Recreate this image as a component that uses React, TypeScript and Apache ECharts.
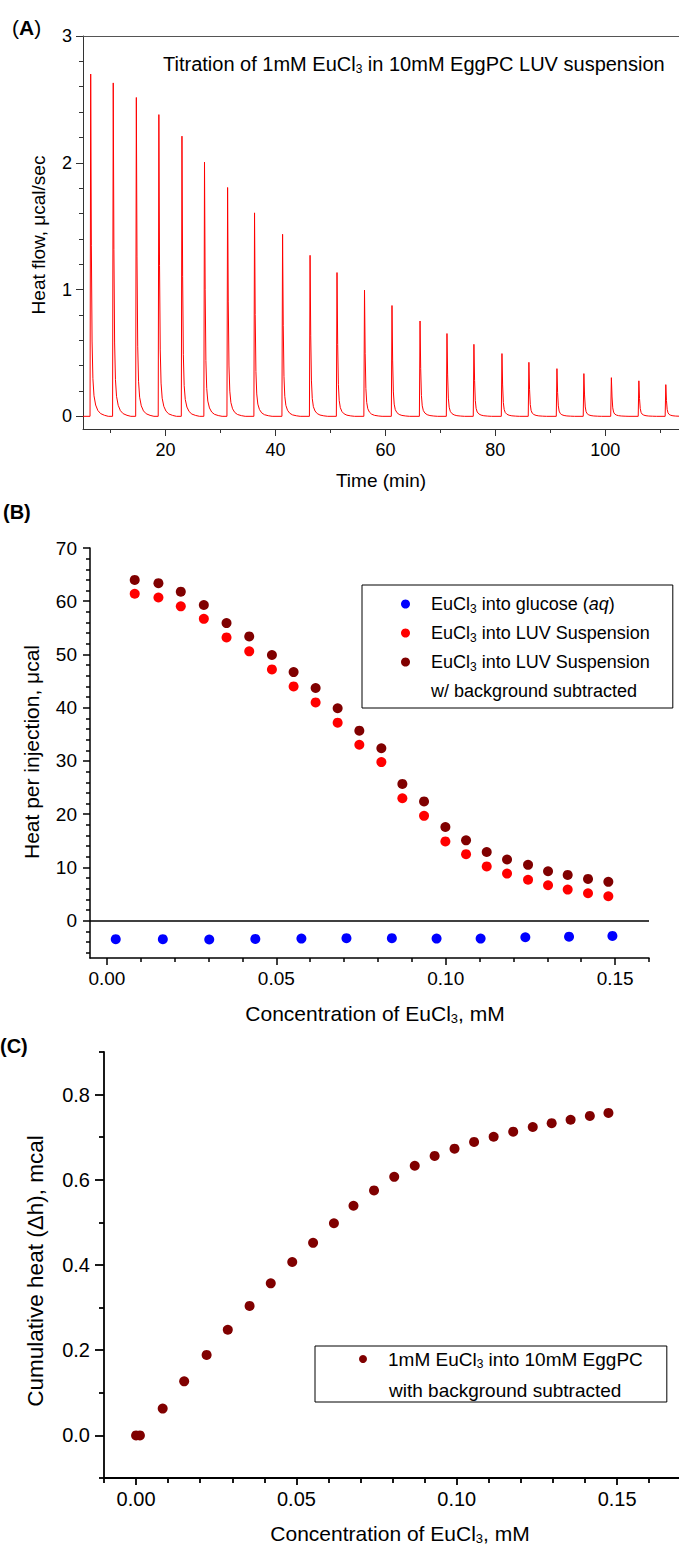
import React, { useEffect, useRef } from "react";
import * as echarts from "echarts";

const FONT = "'Liberation Sans', Arial, Helvetica, sans-serif";

// ---------------- Panel A: raw ITC thermogram ----------------
const TIME_MIN = 5;
const TIME_MAX = 113.4;
const PEAK_TIMES = [6.4, 10.5, 14.7, 18.8, 23.0, 27.1, 31.3, 36.2, 41.3, 46.3, 51.2, 56.2, 61.2, 66.3, 71.2, 76.1, 81.2, 86.1, 91.2, 96.1, 101.1, 106.1, 111.0];
const PEAK_HEIGHTS = [2.7, 2.63, 2.515, 2.38, 2.21, 2.005, 1.805, 1.605, 1.436, 1.27, 1.134, 0.995, 0.874, 0.752, 0.653, 0.568, 0.495, 0.426, 0.376, 0.337, 0.305, 0.28, 0.25];
// shape of one injection peak (minutes after the peak, fraction of peak height)
const PEAK_SHAPE_OFFSETS = [-0.12, 0, 0.12, 0.25, 0.4, 0.6, 0.9, 1.3, 1.8, 2.5, 3.2];
const PEAK_SHAPE_FRACTIONS = [0, 1, 0.5, 0.22, 0.11, 0.06, 0.033, 0.017, 0.008, 0.003, 0];
const A_X_MAJOR = [20, 40, 60, 80, 100];
const A_X_MINOR = [10, 30, 50, 70, 90, 110];
const A_Y_MAJOR = [0, 1, 2, 3];
const A_Y_MINOR = [0.2, 0.4, 0.6, 0.8, 1.2, 1.4, 1.6, 1.8, 2.2, 2.4, 2.6, 2.8];

// ---------------- Panel B: heat per injection ----------------
const CONC_B = [0.0082, 0.0152, 0.0218, 0.0286, 0.0353, 0.042, 0.0487, 0.0551, 0.0616, 0.0681, 0.0745, 0.081, 0.0872, 0.0936, 0.0999, 0.106, 0.1121, 0.1181, 0.1243, 0.1302, 0.136, 0.142, 0.148];
const HEAT_LUV = [61.4, 60.7, 59.05, 56.7, 53.2, 50.6, 47.2, 44.0, 41.0, 37.2, 33.05, 29.8, 23.0, 19.7, 14.9, 12.5, 10.2, 8.85, 7.7, 6.66, 5.85, 5.16, 4.6];
const HEAT_SUB = [64.0, 63.4, 61.8, 59.3, 55.9, 53.4, 49.9, 46.7, 43.7, 39.9, 35.7, 32.4, 25.7, 22.4, 17.6, 15.1, 12.9, 11.5, 10.5, 9.3, 8.6, 7.85, 7.3];
const CONC_GLUCOSE = [0.0026, 0.0165, 0.0302, 0.0438, 0.0574, 0.0707, 0.0841, 0.0973, 0.1103, 0.1235, 0.1364, 0.1492];
const HEAT_GLUCOSE = [-3.47, -3.47, -3.53, -3.41, -3.35, -3.28, -3.28, -3.35, -3.35, -3.1, -3.0, -2.85];
const B_X_MAJOR = [0, 0.05, 0.1, 0.15];
const B_X_MINOR = [0.01, 0.02, 0.03, 0.04, 0.06, 0.07, 0.08, 0.09, 0.11, 0.12, 0.13, 0.14, 0.16];
const B_Y_MAJOR = [0, 10, 20, 30, 40, 50, 60, 70];
const B_Y_MINOR = [-6, -4, -2, 2, 4, 6, 8, 12, 14, 16, 18, 22, 24, 26, 28, 32, 34, 36, 38, 42, 44, 46, 48, 52, 54, 56, 58, 62, 64, 66, 68];

// ---------------- Panel C: cumulative heat ----------------
const CONC_C = [0, 0.0012, 0.0083, 0.015, 0.022, 0.0286, 0.0354, 0.042, 0.0487, 0.0552, 0.0617, 0.0678, 0.0742, 0.0805, 0.0869, 0.0931, 0.0993, 0.1054, 0.1115, 0.1176, 0.1237, 0.1296, 0.1355, 0.1415, 0.1473];
const CUMULATIVE = [0, 0, 0.063, 0.127, 0.189, 0.248, 0.304, 0.357, 0.407, 0.452, 0.498, 0.539, 0.575, 0.607, 0.633, 0.656, 0.673, 0.689, 0.701, 0.713, 0.724, 0.733, 0.741, 0.75, 0.757];
const C_X_MAJOR = [0, 0.05, 0.1, 0.15];
const C_X_MINOR = [-0.01, 0.01, 0.02, 0.03, 0.04, 0.06, 0.07, 0.08, 0.09, 0.11, 0.12, 0.13, 0.14, 0.16];
const C_Y_MAJOR = [0, 0.2, 0.4, 0.6, 0.8];
const C_Y_MINOR = [-0.1, 0.1, 0.3, 0.5, 0.7, 0.9];

const NAME_GLU = "EuCl3 into glucose (aq)";
const NAME_LUV = "EuCl3 into LUV Suspension";
const NAME_SUB = "EuCl3 into LUV Suspension w/ background subtracted";
const NAME_C = "1mM EuCl3 into 10mM EggPC with background subtracted";

function buildTrace(): [number, number][] {
  const pts: [number, number][] = [[TIME_MIN, 0]];
  PEAK_TIMES.forEach((t, i) => {
    PEAK_SHAPE_OFFSETS.forEach((o, j) => {
      pts.push([t + o, PEAK_HEIGHTS[i] * PEAK_SHAPE_FRACTIONS[j]]);
    });
  });
  return pts;
}

type AxisSpec = {
  gridIndex: number;
  position: string;
  min: number;
  max: number;
  majors: number[];
  minors: number[];
  fmt: (v: number) => string;
  fontSize: number;
  margin: number;
  lineWidth: number;
  color: string;
  majorLen: number;
  minorLen: number;
};

function axisPair(s: AxisSpec): any[] {
  const base = {
    type: "value",
    gridIndex: s.gridIndex,
    position: s.position,
    min: s.min,
    max: s.max,
    splitLine: { show: false },
  };
  return [
    {
      ...base,
      axisLine: { show: true, onZero: false, lineStyle: { color: s.color, width: s.lineWidth } },
      axisTick: { show: true, length: s.majorLen, customValues: s.majors, lineStyle: { color: s.color, width: s.lineWidth } },
      axisLabel: {
        show: true,
        customValues: s.majors,
        formatter: s.fmt,
        margin: s.margin,
        fontSize: s.fontSize,
        fontFamily: FONT,
        color: "#000",
        hideOverlap: false,
      },
    },
    {
      ...base,
      axisLine: { show: false, onZero: false },
      axisTick: { show: true, length: s.minorLen, customValues: s.minors, lineStyle: { color: s.color, width: s.lineWidth } },
      axisLabel: { show: false },
    },
  ];
}

function subRich(fontSize: number) {
  return {
    s: { fontSize: Math.round(fontSize * 0.62), lineHeight: 2, verticalAlign: "bottom", fontFamily: FONT, fill: "#000", color: "#000" },
    i: { fontSize, fontStyle: "italic", fontFamily: FONT, fill: "#000", color: "#000" },
    b: { fontSize, fontWeight: "bold", fontFamily: FONT, fill: "#000", color: "#000" },
    n: { fontSize, fontWeight: "normal", fontFamily: FONT, fill: "#000", color: "#000" },
  };
}

function text(x: number, y: number, str: string, fontSize: number, extra: any = {}) {
  return {
    type: "text",
    x,
    y,
    rotation: extra.rotation || 0,
    silent: true,
    style: {
      text: str,
      fontSize,
      fontFamily: FONT,
      fontWeight: extra.weight || "normal",
      fill: "#000",
      align: extra.align || "left",
      verticalAlign: "middle",
      lineHeight: Math.round(fontSize * 1.1),
      rich: subRich(fontSize),
    },
  };
}

function buildOption(): any {
  const f0 = (v: number) => String(Math.round(v));
  const f1 = (v: number) => v.toFixed(1);
  const f2 = (v: number) => v.toFixed(2);

  const aX = axisPair({ gridIndex: 0, position: "bottom", min: TIME_MIN, max: TIME_MAX, majors: A_X_MAJOR, minors: A_X_MINOR, fmt: f0, fontSize: 18, margin: 12, lineWidth: 1, color: "#333", majorLen: 7, minorLen: 4 });
  const aTop = {
    type: "value", gridIndex: 0, position: "top", min: TIME_MIN, max: TIME_MAX,
    axisLine: { show: true, onZero: false, lineStyle: { color: "#555", width: 1.2 } },
    axisTick: { show: false }, axisLabel: { show: false }, splitLine: { show: false },
  };
  const aY = axisPair({ gridIndex: 0, position: "left", min: -0.1, max: 3, majors: A_Y_MAJOR, minors: A_Y_MINOR, fmt: f0, fontSize: 18, margin: 11, lineWidth: 1, color: "#333", majorLen: 7, minorLen: 4 });

  const bX = axisPair({ gridIndex: 1, position: "bottom", min: -0.005, max: 0.16, majors: B_X_MAJOR, minors: B_X_MINOR, fmt: f2, fontSize: 19, margin: 11, lineWidth: 1.5, color: "#000", majorLen: 7, minorLen: 4 });
  const bY = axisPair({ gridIndex: 1, position: "left", min: -7, max: 70, majors: B_Y_MAJOR, minors: B_Y_MINOR, fmt: f0, fontSize: 19, margin: 13, lineWidth: 1.5, color: "#000", majorLen: 7, minorLen: 4 });

  const cX = axisPair({ gridIndex: 2, position: "bottom", min: -0.01, max: 0.1693, majors: C_X_MAJOR, minors: C_X_MINOR, fmt: f2, fontSize: 20, margin: 11, lineWidth: 1.8, color: "#000", majorLen: 7, minorLen: 5 });
  const cY = axisPair({ gridIndex: 2, position: "left", min: -0.1, max: 0.9, majors: C_Y_MAJOR, minors: C_Y_MINOR, fmt: f1, fontSize: 20, margin: 14, lineWidth: 1.8, color: "#000", majorLen: 9, minorLen: 5 });

  const legendRich = {
    s: { fontSize: 12, lineHeight: 2, verticalAlign: "bottom", fontFamily: FONT, color: "#000" },
    i: { fontSize: 18, fontStyle: "italic", lineHeight: 22, fontFamily: FONT, color: "#000" },
  };
  const legendLabels: Record<string, string> = {
    [NAME_GLU]: "EuCl{s|3} into glucose ({i|aq})",
    [NAME_LUV]: "EuCl{s|3} into LUV Suspension",
    [NAME_SUB]: "EuCl{s|3} into LUV Suspension",
    [NAME_C]: "1mM EuCl{s|3} into 10mM EggPC",
  };

  return {
    animation: false,
    backgroundColor: "#fff",
    textStyle: { fontFamily: FONT },
    grid: [
      { left: 83, top: 36, width: 596, height: 393, outerBoundsMode: "none", containLabel: false },
      { left: 90, top: 548, width: 559, height: 410, outerBoundsMode: "none", containLabel: false },
      { left: 104, top: 1052, width: 575, height: 426, outerBoundsMode: "none", containLabel: false },
    ],
    // x axes: 0 A main, 1 A minor, 2 A top frame, 3 B main, 4 B minor, 5 C main, 6 C minor
    xAxis: [...aX, aTop, ...bX, ...cX],
    // y axes: 0 A main, 1 A minor, 2 B main, 3 B minor, 4 C main, 5 C minor
    yAxis: [...aY, ...bY, ...cY],
    legend: [
      {
        orient: "vertical",
        left: 362,
        top: 585,
        data: [NAME_GLU, NAME_LUV, NAME_SUB],
        icon: "circle",
        itemWidth: 9,
        itemHeight: 9,
        itemGap: 7,
        padding: [8, 23, 35, 39],
        borderColor: "#000",
        borderWidth: 1,
        selectedMode: false,
        formatter: (n: string) => legendLabels[n],
        textStyle: { fontSize: 18, fontFamily: FONT, color: "#000", lineHeight: 22, padding: [0, 0, 0, 16], rich: legendRich },
      },
      {
        orient: "vertical",
        left: 315,
        top: 1346,
        data: [NAME_C],
        icon: "circle",
        itemWidth: 8,
        itemHeight: 8,
        padding: [2, 24, 32, 44],
        borderColor: "#000",
        borderWidth: 1,
        selectedMode: false,
        formatter: (n: string) => legendLabels[n],
        textStyle: {
          fontSize: 19, fontFamily: FONT, color: "#000", lineHeight: 22, padding: [0, 0, 0, 16],
          rich: { s: { fontSize: 12, lineHeight: 2, verticalAlign: "bottom", fontFamily: FONT, color: "#000" } },
        },
      },
    ],
    series: [
      {
        name: "Heat flow",
        type: "line",
        xAxisIndex: 0,
        yAxisIndex: 0,
        data: buildTrace(),
        showSymbol: false,
        symbol: "none",
        clip: true,
        lineStyle: { color: "#ff0000", width: 1 },
        silent: true,
      },
      {
        name: NAME_GLU,
        type: "scatter",
        xAxisIndex: 3,
        yAxisIndex: 2,
        data: CONC_GLUCOSE.map((c, i) => [c, HEAT_GLUCOSE[i]]),
        symbol: "circle",
        symbolSize: 10,
        itemStyle: { color: "#0000ff", opacity: 1 },
        markLine: {
          silent: true,
          symbol: ["none", "none"],
          label: { show: false },
          lineStyle: { color: "#000", width: 1.5, type: "solid" },
          data: [{ yAxis: 0 }],
        },
      },
      {
        name: NAME_LUV,
        type: "scatter",
        xAxisIndex: 3,
        yAxisIndex: 2,
        data: CONC_B.map((c, i) => [c, HEAT_LUV[i]]),
        symbol: "circle",
        symbolSize: 10,
        itemStyle: { color: "#ff0000", opacity: 1 },
      },
      {
        name: NAME_SUB,
        type: "scatter",
        xAxisIndex: 3,
        yAxisIndex: 2,
        data: CONC_B.map((c, i) => [c, HEAT_SUB[i]]),
        symbol: "circle",
        symbolSize: 10,
        itemStyle: { color: "#800000", opacity: 1 },
      },
      {
        name: NAME_C,
        type: "scatter",
        xAxisIndex: 5,
        yAxisIndex: 4,
        data: CONC_C.map((c, i) => [c, CUMULATIVE[i]]),
        symbol: "circle",
        symbolSize: 10,
        itemStyle: { color: "#800000", opacity: 1 },
      },
    ],
    graphic: [
      text(12, 27, "{n|(}{b|A}{n|)}", 21),
      text(3, 512, "(B)", 20, { weight: "bold" }),
      text(0, 1046, "(C)", 20, { weight: "bold" }),
      text(163, 64, "Titration of 1mM EuCl{s|3} in 10mM EggPC LUV suspension", 20),
      text(381, 480, "Time (min)", 19, { align: "center" }),
      text(38, 235, "Heat flow, μcal/sec", 19, { align: "center", rotation: Math.PI / 2 }),
      text(375, 1013, "Concentration of EuCl{s|3}, mM", 21, { align: "center" }),
      text(31, 752, "Heat per injection, μcal", 21, { align: "center", rotation: Math.PI / 2 }),
      text(431, 691, "w/ background subtracted", 18),
      text(400, 1533, "Concentration of EuCl{s|3}, mM", 21, { align: "center" }),
      text(35, 1271, "Cumulative heat (Δh), mcal", 22.5, { align: "center", rotation: Math.PI / 2 }),
      text(389, 1390, "with background subtracted", 19),
    ],
  };
}

export default function App() {
  const ref = useRef<HTMLDivElement>(null);
  useEffect(() => {
    document.body.style.margin = "0";
    if (!ref.current) return;
    const chart = echarts.init(ref.current, null, { renderer: "svg" });
    chart.setOption(buildOption());
    return () => chart.dispose();
  }, []);
  return <div ref={ref} style={{ width: 679, height: 1549 }} />;
}
